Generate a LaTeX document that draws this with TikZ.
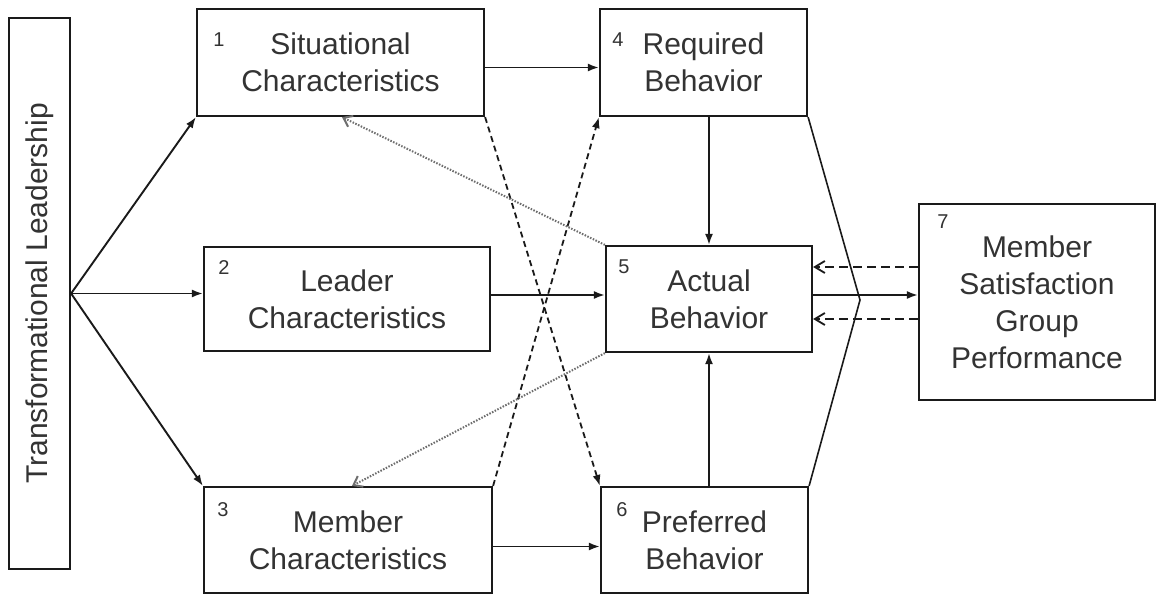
\documentclass[tikz,border=0pt]{standalone}
\usepackage{fontspec}
\setmainfont{Liberation Sans}
\usetikzlibrary{arrows.meta}
\definecolor{txt}{HTML}{333333}
\definecolor{ln}{HTML}{1A1A1A}
\definecolor{dotc}{HTML}{6E6E6E}
\tikzset{
  box/.style={draw=ln, line width=2.2pt, rectangle, inner sep=0pt, align=center,
              text=txt, font=\fontsize{30}{37}\selectfont},
  num/.style={text=txt, font=\fontsize{20}{22}\selectfont, inner sep=0pt},
  arr/.style={draw=ln, line width=1.9pt, -{Latex[length=11pt,width=8pt]}},
  xdash/.style={draw=ln, line width=1.8pt, dash pattern=on 6pt off 4pt, -{Latex[length=11pt,width=8pt]}},
  dotarr/.style={draw=dotc, line width=2pt, dash pattern=on 1.5pt off 1.5pt, -{Straight Barb[length=8pt,width=12pt]}},
  backdash/.style={draw=ln, line width=1.8pt, dash pattern=on 9pt off 5pt, -{Straight Barb[length=10pt,width=12pt]}},
  wedge/.style={draw=ln, line width=1.6pt},
}
\begin{document}
\begin{tikzpicture}[x=1pt,y=-1pt]
\useasboundingbox (0,0) rectangle (1156,595);
\fill[white] (0,0) rectangle (1156,595);

\node[box, minimum width=61pt, minimum height=551pt] (TL) at (39.5,293.5) {};
\node[text=txt, font=\fontsize{30}{37}\selectfont, rotate=90, inner sep=0pt] (TLtext) at (TL.center) {Transformational Leadership};

\node[box, minimum width=287pt, minimum height=107pt] (b1) at (340.5,62.5) {Situational\\Characteristics};
\node[box, minimum width=207pt, minimum height=107pt] (b4) at (703.5,62.5) {Required\\Behavior};
\node[box, minimum width=286pt, minimum height=104pt] (b2) at (347,299) {Leader\\Characteristics};
\node[box, minimum width=206pt, minimum height=106pt] (b5) at (709,299) {Actual\\Behavior};
\node[box, minimum width=288pt, minimum height=106pt] (b3) at (348,540) {Member\\Characteristics};
\node[box, minimum width=207pt, minimum height=106pt] (b6) at (704.5,540) {Preferred\\Behavior};
\node[box, minimum width=236pt, minimum height=196pt] (b7) at (1037,302) {Member\\Satisfaction\\Group\\Performance};

\node[num] (n1) at (219,40) {1};
\node[num] (n4) at (618,40) {4};
\node[num] (n2) at (224,268) {2};
\node[num] (n5) at (624,267) {5};
\node[num] (n3) at (223,510) {3};
\node[num] (n6) at (622,510) {6};
\node[num] (n7) at (943,222) {7};

% fan from Transformational Leadership
\draw[arr] (TL.east) -- (b1.south west);
\draw[arr] (TL.east) -- (TL.east -| b2.west);
\draw[arr] (TL.east) -- (b3.north west);

% horizontal arrows
\draw[arr] ([yshift=-5pt]b1.east) -- ([yshift=-5pt]b4.west);
\draw[arr] ([yshift=4pt]b2.east) -- ([yshift=4pt]b5.west);
\draw[arr] ([yshift=-6.5pt]b3.east) -- ([yshift=-6.5pt]b6.west);

% vertical arrows into Actual Behavior
\draw[arr] (b4.south -| b5.north) -- (b5.north);
\draw[arr] (b6.north -| b5.south) -- (b5.south);

% dashed crossing arrows
\draw[xdash] (b1.south east) -- (b6.north west);
\draw[xdash] (b3.north east) -- (b4.south west);

% dotted feedback arrows
\draw[dotarr] (b5.north west) -- ([xshift=1.5pt]b1.south);
\draw[dotarr] (b5.south west) -- ([xshift=4pt]b3.north);

% wedge
\coordinate (tip) at (860,300);
\draw[wedge] (b4.south east) -- (tip) -- (b6.north east);

% to and from outcomes
\draw[arr] ([yshift=4pt]b5.east) -- ([yshift=7pt]b7.west);
\draw[backdash] (b7.west |- 0,267) -- (b5.east |- 0,267);
\draw[backdash] (b7.west |- 0,319) -- (b5.east |- 0,319);
\end{tikzpicture}
\end{document}
